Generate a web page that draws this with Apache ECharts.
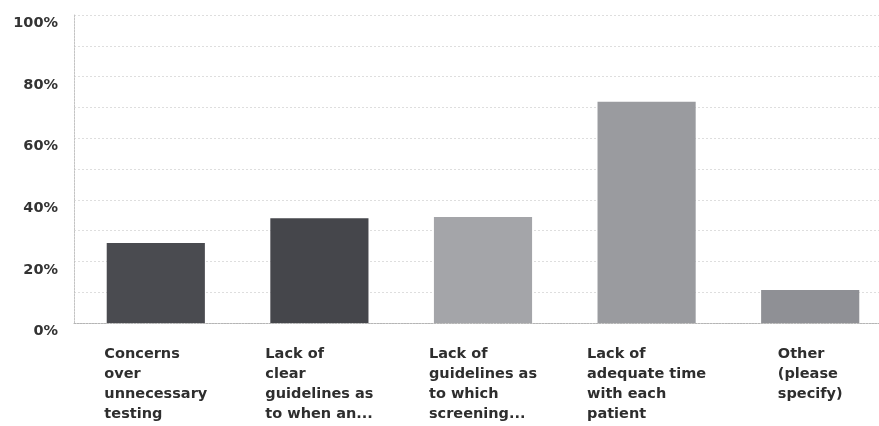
<!DOCTYPE html>
<html>
<head>
<meta charset="utf-8">
<script src="https://cdn.jsdelivr.net/npm/echarts@6/dist/echarts.min.js"></script>
<style>
  html, body { margin: 0; padding: 0; background: #ffffff; overflow: hidden; }
  /* the plot runs a little past the right edge of the window */
  #chart { width: 892px; height: 426px; }
</style>
</head>
<body>
<div id="chart"></div>
<script>
// Survey responses: barriers to screening
const categories = [
  ['Concerns', 'over', 'unnecessary', 'testing'],
  ['Lack of', 'clear', 'guidelines as', 'to when an...'],
  ['Lack of', 'guidelines as', 'to which', 'screening...'],
  ['Lack of', 'adequate time', 'with each', 'patient'],
  ['Other', '(please', 'specify)']
];
const values = [26, 34, 34.4, 71.8, 10.7];
const barColors = ['#4a4b50', '#45464b', '#a4a5a9', '#9a9b9f', '#8f9095'];
const yTicks = [0, 20, 40, 60, 80, 100];

const chart = echarts.init(document.getElementById('chart'), null, { renderer: 'canvas' });

chart.setOption({
  animation: false,
  backgroundColor: '#ffffff',
  grid: { left: 74, right: 0, top: 15, bottom: 103, containLabel: false },
  xAxis: {
    type: 'category',
    data: categories.map(lines => lines.join('\n')),
    axisLine: { show: true, lineStyle: { color: '#b5b5b5', width: 1, type: [2, 1] } },
    axisTick: { show: false },
    axisLabel: {
      interval: 0,
      margin: 21,
      align: 'center',
      formatter: v => v.split('\n').map(s => '{l|' + s + '}').join('\n'),
      rich: {
        l: {
          align: 'left',
          fontFamily: 'DejaVu Sans',
          fontWeight: 'bold',
          fontSize: 14.5,
          lineHeight: 20,
          color: '#2e2e2e'
        }
      }
    }
  },
  yAxis: {
    type: 'value',
    min: 0,
    max: 100,
    interval: 10,
    axisLine: { show: true, lineStyle: { color: '#c4c4c4', width: 1, type: [2, 1] } },
    axisTick: { show: false },
    splitLine: { show: true, lineStyle: { color: '#dedede', width: 1, type: [2, 2] } },
    axisLabel: {
      margin: 16,
      verticalAlign: 'top',
      lineHeight: 17,
      fontFamily: 'DejaVu Sans',
      fontWeight: 'bold',
      fontSize: 14.5,
      color: '#333333',
      formatter: v => (yTicks.indexOf(v) >= 0 ? v + '%' : '')
    }
  },
  series: [{
    type: 'bar',
    barWidth: '60%',
    data: values.map((v, i) => ({ value: v, itemStyle: { color: barColors[i] } }))
  }]
});
</script>
</body>
</html>
